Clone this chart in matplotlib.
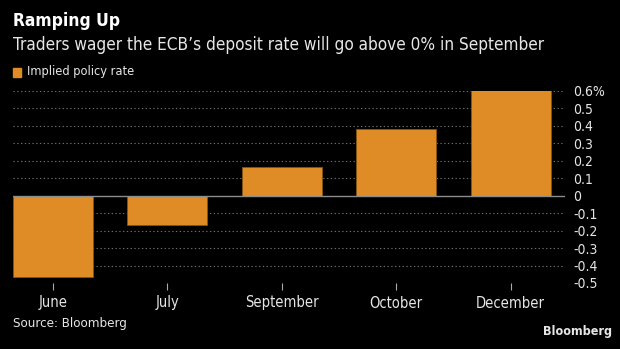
import matplotlib.pyplot as plt
import numpy as np

months = ['June', 'July', 'September', 'October', 'December']
rates = [-0.465, -0.17, 0.165, 0.385, 0.61]
yticks = [-0.5, -0.4, -0.3, -0.2, -0.1, 0, 0.1, 0.2, 0.3, 0.4, 0.5, 0.6]
ylabels = ['-0.5', '-0.4', '-0.3', '-0.2', '-0.1', '0', '0.1', '0.2', '0.3', '0.4', '0.5', '0.6%']

plt.rcParams['font.family'] = ['DejaVu Sans']
plt.rcParams['font.stretch'] = 'condensed'
bg = 'black'
orange = '#e08c26'
txt = '#e6e6e6'

fig = plt.figure(figsize=(6.2, 3.49), dpi=100, facecolor=bg)
ax = fig.add_axes([13/620, 1-283/349, (565-13)/620, (283-91)/349])
ax.set_facecolor(bg)

x = np.arange(len(months))
ax.bar(x, rates, width=0.7, color=orange, edgecolor='#8a5410', linewidth=0.6, zorder=3)

ax.set_xlim(-0.35, 4.476)
ax.set_ylim(-0.5, 0.6)
for y in yticks:
    if y == 0:
        ax.axhline(0, color='#8c8c8c', lw=1, zorder=4)
    elif y > -0.5:
        ax.axhline(y, color='#6e6e6e', lw=0.8, ls=(0, (1.2, 2.2)), zorder=1)

ax.yaxis.tick_right()
ax.set_yticks(yticks)
ax.set_yticklabels(ylabels)
ax.tick_params(axis='y', length=0, pad=6, labelsize=10, labelcolor=txt)
ax.set_xticks(x)
ax.set_xticklabels(months)
ax.tick_params(axis='x', length=5, width=0.8, color='#aaaaaa', pad=4, labelsize=10.5, labelcolor=txt)
for s in ax.spines.values():
    s.set_visible(False)

fig.text(13/620, 1-21/349, 'Ramping Up', color='white', fontsize=12.5, fontweight='bold', va='center')
fig.text(13/620, 1-45/349, 'Traders wager the ECB\u2019s deposit rate will go above 0% in September',
         color=txt, fontsize=12.3, va='center')
fig.patches.append(plt.Rectangle((13/620, 1-77/349), 8/620, 9/349, transform=fig.transFigure,
                                 color=orange, figure=fig))
fig.text(27/620, 1-72/349, 'Implied policy rate', color=txt, fontsize=9.2, va='center')
fig.text(13/620, 1-323/349, 'Source: Bloomberg', color=txt, fontsize=9.5, va='center')
fig.text(612/620, 1-331/349, 'Bloomberg', color=txt, fontsize=9, fontweight='bold', va='center', ha='right')

fig.savefig('out.png', dpi=100, facecolor=bg)
